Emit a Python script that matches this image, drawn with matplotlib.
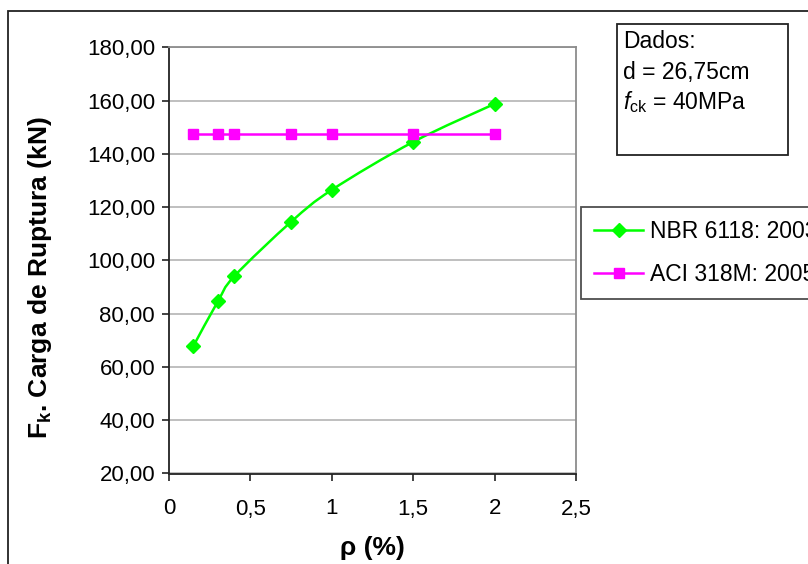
import matplotlib
matplotlib.use("Agg")
import matplotlib.pyplot as plt
from matplotlib.path import Path
from matplotlib.patches import PathPatch, Rectangle
from matplotlib.lines import Line2D
from matplotlib.ticker import FuncFormatter, MultipleLocator
import numpy as np

plt.rcParams["font.family"] = ["Liberation Sans", "DejaVu Sans"]
plt.rcParams["mathtext.fontset"] = "custom"
plt.rcParams["mathtext.rm"] = "Liberation Sans"
plt.rcParams["mathtext.it"] = "Liberation Sans:italic"
plt.rcParams["mathtext.bf"] = "Liberation Sans:bold"

# Reinforcement ratio (%) and failure load (kN)
rho = [0.15, 0.30, 0.40, 0.75, 1.00, 1.50, 2.00]
nbr_6118 = [67.9, 84.6, 94.0, 114.5, 126.5, 144.5, 158.8]
aci_318m = [147.3, 147.3, 147.3, 147.3, 147.3, 147.3, 147.3]

series_labels = ["NBR 6118: 2003", "ACI 318M: 2005"]
info_lines = ["Dados:", "d = 26,75cm", r"$f_{\mathrm{ck}}$ = 40MPa"]

W, H = 808, 564
fig = plt.figure(figsize=(W / 100, H / 100), dpi=100)
fig.patch.set_facecolor("white")

FS_TICK = 16
FS_BOX = 16.5
FS_LABEL = 19

ax = fig.add_axes([169 / W, 1 - 473.5 / H, 407 / W, (473.5 - 47.4) / H])
ax.set_xlim(0, 2.5)
ax.set_ylim(20, 180)
ax.xaxis.set_major_locator(MultipleLocator(0.5))
ax.yaxis.set_major_locator(MultipleLocator(20))


def comma_fmt(decimals):
    def f(v, _):
        if decimals is None:
            s = ("%.1f" % v).rstrip("0").rstrip(".")
        else:
            s = "%.*f" % (decimals, v)
        return s.replace(".", ",")
    return FuncFormatter(f)


ax.xaxis.set_major_formatter(comma_fmt(None))
ax.yaxis.set_major_formatter(comma_fmt(2))
ax.tick_params(axis="both", direction="out", length=5, width=1.2,
               color="#222222", labelsize=FS_TICK)
ax.tick_params(axis="x", pad=13)
ax.tick_params(axis="y", pad=5)
ax.grid(axis="y", color="#b4b4b4", linewidth=1.2)
ax.set_axisbelow(True)
for side in ("left", "bottom"):
    ax.spines[side].set_color("#222222")
    ax.spines[side].set_linewidth(1.3)
for side in ("top", "right"):
    ax.spines[side].set_color("#8c8c8c")
    ax.spines[side].set_linewidth(1.3)


def smooth_path(xs, ys):
    # Cardinal-spline Bezier segments through the points
    pts = np.column_stack([xs, ys]).astype(float)
    n = len(pts)
    verts = [pts[0]]
    codes = [Path.MOVETO]
    for i in range(n - 1):
        p0 = pts[i - 1] if i > 0 else pts[i]
        p1 = pts[i]
        p2 = pts[i + 1]
        p3 = pts[i + 2] if i + 2 < n else pts[i + 1]
        c1 = p1 + (p2 - p0) / 6.0
        c2 = p2 - (p3 - p1) / 6.0
        verts += [c1, c2, p2]
        codes += [Path.CURVE4] * 3
    return Path(verts, codes)


GREEN = "#00ff00"
MAGENTA = "#ff00ff"
MS_D = 7.5
MS_S = 6.8

ax.add_patch(PathPatch(smooth_path(rho, nbr_6118), facecolor="none",
                       edgecolor=GREEN, linewidth=1.8, zorder=3))
ax.plot(rho, nbr_6118, linestyle="none", marker="D", markersize=MS_D,
        color=GREEN, zorder=4, clip_on=False)
ax.plot(rho, aci_318m, linestyle="-", linewidth=1.8, marker="s",
        markersize=MS_S, color=MAGENTA, zorder=4, clip_on=False)

ax.set_xlabel(r"ρ (%)", fontsize=FS_LABEL, fontweight="bold")
ax.set_ylabel(r"F$_\mathbf{k}$. Carga de Ruptura (kN)", fontsize=FS_LABEL,
              fontweight="bold")
ax.xaxis.set_label_coords((372 - 169) / 407, -(548 - 473.5) / 426.1)
ax.xaxis.label.set_va("center")
ax.yaxis.set_label_coords((40 - 169) / 407, (473.5 - 278) / 426.1)
ax.yaxis.label.set_va("center")

handles = [
    Line2D([], [], color=GREEN, linewidth=1.8, marker="D", markersize=MS_D),
    Line2D([], [], color=MAGENTA, linewidth=1.8, marker="s", markersize=MS_S),
]
leg = fig.legend(handles, series_labels, loc="upper left",
                 bbox_to_anchor=(581 / W, 1 - 207 / H), fontsize=FS_BOX,
                 frameon=True, fancybox=False, edgecolor="#222222",
                 handlelength=2.15, handletextpad=0.27, borderpad=0.57,
                 labelspacing=0.85, borderaxespad=0)
leg.get_frame().set_linewidth(1.3)

# Information box
fig.add_artist(Rectangle((617 / W, 1 - 155 / H), (788 - 617) / W,
                         (155 - 24) / H, transform=fig.transFigure,
                         facecolor="white", edgecolor="#222222",
                         linewidth=1.3))
for i, line in enumerate(info_lines):
    fig.text(623 / W, 1 - (42 + 30 * i) / H, line, fontsize=FS_BOX,
             ha="left", va="center")

# Outer chart border
fig.add_artist(Rectangle((8 / W, -0.05), 1.2, 1 - 10.7 / H + 0.05,
                         transform=fig.transFigure, facecolor="none",
                         edgecolor="#222222", linewidth=1.3))

fig.savefig("out.png", dpi=100)
